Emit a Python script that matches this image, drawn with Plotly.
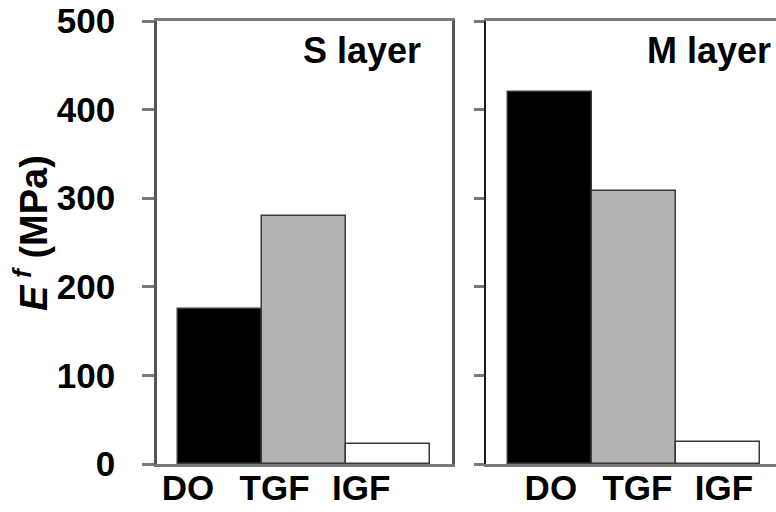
import plotly.graph_objects as go

categories = ["DO", "TGF", "IGF"]
s_layer = [175, 280, 23]
m_layer = [420, 308, 25]
bar_colors = ["#000000", "#b3b3b3", "#ffffff"]
y_ticks = [0, 100, 200, 300, 400, 500]

W, H = 776, 512
FONT = "Liberation Sans, Arial, sans-serif"


def px_x(p):
    return p / W


def px_y(p):
    return (H - p) / H


fig = go.Figure()
xpos = list(range(len(categories)))
fig.add_trace(go.Bar(x=xpos, y=s_layer, width=1.0, marker=dict(color=bar_colors, line=dict(color="#3a3a3a", width=1.5)),
                     xaxis="x", yaxis="y", showlegend=False))
fig.add_trace(go.Bar(x=xpos, y=m_layer, width=1.0, marker=dict(color=bar_colors, line=dict(color="#3a3a3a", width=1.5)),
                     xaxis="x2", yaxis="y2", showlegend=False))

ydom = [px_y(464), px_y(21)]
tickfont = dict(family=FONT, size=35, color="#000000", weight="bold")

fig.update_layout(
    width=W, height=H,
    margin=dict(l=0, r=0, t=0, b=0, autoexpand=False),
    paper_bgcolor="white", plot_bgcolor="white",
    bargap=0,
    xaxis=dict(domain=[px_x(157), px_x(452)], range=[-0.75, 2.762], anchor="y", automargin=False,
               tickvals=[i * 1.03 - 0.38 for i in xpos], ticktext=categories, ticklabelstandoff=-9,
               ticklabeloverflow="allow",
               showgrid=False, zeroline=False, showline=True, linecolor="#7a7a7a", linewidth=2.5,
               mirror=True, ticks="", tickfont=tickfont),
    yaxis=dict(domain=ydom, range=[0, 500], anchor="x", tickvals=y_ticks, automargin=False,
               ticklabeloverflow="allow",
               showgrid=False, zeroline=False, showline=True, linecolor="#555555", linewidth=2.5,
               mirror=True, ticks="outside", ticklen=12, tickwidth=2.5, tickcolor="#7a7a7a",
               ticklabelstandoff=20, tickfont=tickfont),
    xaxis2=dict(domain=[px_x(486), 1.0], range=[-0.762, 2.69], anchor="y2", automargin=False,
                tickvals=[i * 1.03 + 0.01 for i in xpos], ticktext=categories, ticklabelstandoff=-9,
                ticklabeloverflow="allow",
                showgrid=False, zeroline=False, showline=True, linecolor="#7a7a7a", linewidth=2.5,
                mirror=True, ticks="", tickfont=tickfont),
    yaxis2=dict(domain=ydom, range=[0, 500], anchor="x2", tickvals=y_ticks, automargin=False,
                showgrid=False, zeroline=False, showline=True, linecolor="#1a1a1a", linewidth=2,
                mirror=False, ticks="outside", ticklen=10, tickwidth=2.5, tickcolor="#7a7a7a",
                showticklabels=False),
)

fig.add_annotation(text="<b>S layer</b>", xref="paper", yref="paper", x=px_x(423), y=px_y(50),
                   xanchor="right", yanchor="middle", showarrow=False,
                   font=dict(family=FONT, size=36, color="#000000"))
fig.add_annotation(text="<b>M layer</b>", xref="paper", yref="paper", x=px_x(773), y=px_y(50),
                   xanchor="right", yanchor="middle", showarrow=False,
                   font=dict(family=FONT, size=36, color="#000000"))
fig.add_annotation(text="<b><i>E</i>&#8201;<sup><i>f</i></sup> (MPa)</b>", xref="paper", yref="paper",
                   x=px_x(31), y=px_y(233), textangle=-90, xanchor="center", yanchor="middle",
                   showarrow=False, font=dict(family=FONT, size=38, color="#000000"))

fig.write_html("out.html", config={"displayModeBar": False},
               post_script="document.body.style.margin='0';")
